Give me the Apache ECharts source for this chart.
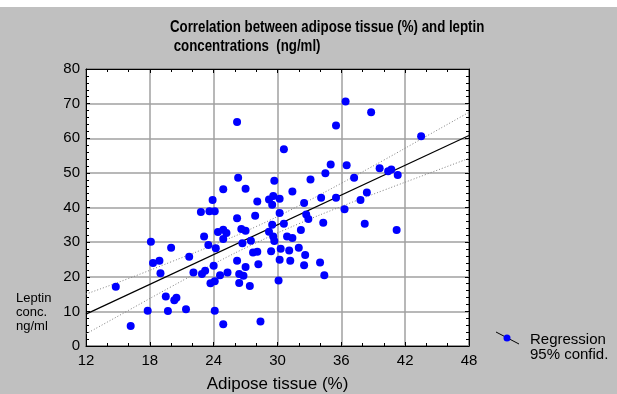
<!DOCTYPE html>
<html>
<head>
<meta charset="utf-8">
<script src="https://cdn.jsdelivr.net/npm/echarts@6/dist/echarts.min.js"></script>
<style>
  html, body { margin: 0; padding: 0; background: #fff; }
  #chart { width: 617px; height: 394px; }
</style>
</head>
<body>
<div id="chart"></div>
<script>
// adipose tissue (%) for each subject
const fatPct = [
  14.8, 16.2, 17.8, 18.1, 18.3, 18.9, 19.0, 19.5, 19.7, 20.0,
  20.3, 20.5, 21.4, 21.7, 22.1, 22.9, 23.2, 22.8, 23.6, 24.1,
  23.9, 23.1, 23.5, 24.2, 23.7, 24.1, 24.6, 25.3, 24.0, 24.1,
  24.9, 24.4, 24.9, 25.2, 24.9, 24.9, 26.2, 26.3, 27.0, 26.2,
  27.9, 28.1, 26.6, 27.0, 26.7, 27.5, 26.2, 27.0, 26.4, 26.8,
  26.4, 27.4, 27.7, 28.1, 28.2, 28.4, 29.2, 29.6, 29.7, 29.4,
  29.5, 29.2, 29.6, 30.2, 29.5, 29.7, 30.2, 30.6, 30.9, 31.4,
  30.3, 31.1, 32.0, 32.6, 30.2, 31.2, 32.5, 34.0, 34.4, 30.1,
  32.2, 32.5, 32.7, 32.9, 34.3, 30.6, 31.4, 33.1, 34.5, 35.0,
  36.5, 34.1, 35.5, 36.3, 37.8, 38.4, 38.2, 37.2, 35.5, 36.4,
  38.8, 39.6, 40.4, 40.7, 41.3, 41.2, 43.5
];
// leptin concentration (ng/ml), same order
const leptin = [
  17.1, 5.8, 10.2, 30.1, 24.0, 24.6, 21.0, 14.3, 10.1, 28.4,
  13.2, 13.9, 10.6, 25.8, 21.2, 20.8, 21.7, 38.7, 38.9, 38.9,
  42.2, 31.6, 29.2, 28.2, 18.1, 18.7, 20.4, 21.2, 23.2, 10.2,
  6.3, 32.9, 33.6, 32.6, 30.9, 45.3, 64.7, 48.6, 45.4, 36.9,
  37.6, 41.7, 33.8, 33.3, 29.7, 30.4, 24.6, 22.8, 20.8, 20.3,
  18.2, 17.3, 27.0, 27.2, 23.6, 7.1, 33.0, 31.6, 30.3, 27.4,
  35.0, 42.3, 43.3, 42.5, 40.8, 47.7, 38.4, 35.3, 31.6, 31.2,
  28.1, 27.6, 28.4, 26.3, 24.9, 24.6, 23.3, 24.1, 20.4, 18.9,
  33.5, 41.3, 38.0, 36.7, 35.6, 56.8, 44.6, 48.1, 49.9, 52.4,
  52.2, 42.8, 42.8, 39.5, 42.2, 44.3, 35.3, 48.6, 63.7, 70.6,
  67.5, 51.3, 50.5, 51.0, 49.4, 33.5, 60.6
];

// regression line end points
const regX = [12, 48];
const regY = [9.2, 60.8];

// 95% confidence band
const bandX = [12, 16, 20, 24, 28, 32, 36, 40, 44, 48];
const bandUpper = [15.0, 19.5, 24.3, 29.2, 34.5, 40.5, 47.0, 53.7, 60.6, 67.5];
const bandLower = [3.5, 10.3, 17.1, 23.7, 29.8, 35.3, 40.3, 45.0, 49.6, 54.2];

const xTicks = [12, 18, 24, 30, 36, 42, 48];
const yTicks = [0, 10, 20, 30, 40, 50, 60, 70, 80];

const zip = (a, b) => a.map((v, i) => [v, b[i]]);

const font = "'Liberation Sans', Arial, sans-serif";

const chart = echarts.init(document.getElementById('chart'), null, { renderer: 'canvas' });

const baseX = {
  type: 'value',
  min: xTicks[0],
  max: xTicks[xTicks.length - 1],
  interval: 6,
  axisLine: { show: true, onZero: false, lineStyle: { color: '#000', width: 1 } },
  axisTick: { show: true, inside: true, length: 4, lineStyle: { color: '#000' } },
  minorTick: { show: true, splitNumber: 3, length: 3, lineStyle: { color: '#000' } },
};
const baseY = {
  type: 'value',
  min: yTicks[0],
  max: yTicks[yTicks.length - 1],
  interval: 10,
  axisLine: { show: true, onZero: false, lineStyle: { color: '#000', width: 1 } },
  axisTick: { show: true, inside: true, length: 4, lineStyle: { color: '#000' } },
  minorTick: { show: true, splitNumber: 5, length: 3, lineStyle: { color: '#000' } },
};

chart.setOption({
  backgroundColor: '#c0c0c0',
  animation: false,
  grid: {
    left: 86, top: 69, right: 148, bottom: 48,
    outerBoundsMode: 'none',
    show: true, backgroundColor: '#fff', borderColor: '#000', borderWidth: 1,
  },
  xAxis: [
    {
      ...baseX,
      position: 'bottom',
      name: 'Adipose tissue (%)',
      nameLocation: 'middle',
      nameGap: 30,
      nameTextStyle: { fontFamily: font, fontSize: 17, color: '#000' },
      axisLabel: { fontFamily: font, fontSize: 15, color: '#000', margin: 7 },
      splitLine: { show: true, lineStyle: { color: '#a0a0a0', width: 1.5 } },
    },
    { ...baseX, position: 'top', axisLabel: { show: false }, splitLine: { show: false } },
  ],
  yAxis: [
    {
      ...baseY,
      position: 'left',
      axisLabel: { fontFamily: font, fontSize: 15, color: '#000', margin: 6 },
      splitLine: { show: true, lineStyle: { color: '#a0a0a0', width: 1.5 } },
    },
    { ...baseY, position: 'right', axisLabel: { show: false }, splitLine: { show: false } },
  ],
  graphic: [
    { type: 'rect', left: 0, top: 0, shape: { width: 617, height: 7 }, style: { fill: '#fff' }, silent: true },
    // title, squeezed horizontally to look like a narrow bold face
    {
      type: 'text', x: 170, y: 18, scaleX: 0.83,
      style: {
        text: 'Correlation between adipose tissue (%) and leptin\n concentrations  (ng/ml)',
        fontFamily: font, fontSize: 16, fontWeight: 'bold', lineHeight: 19, fill: '#000',
      },
    },
    {
      type: 'text', left: 16, top: 291,
      style: { text: 'Leptin\nconc.\nng/ml', fontFamily: font, fontSize: 13, lineHeight: 14, fill: '#000', align: 'center', width: 38 },
    },
    { type: 'line', shape: { x1: 496, y1: 332, x2: 519, y2: 344 }, style: { stroke: '#000', lineWidth: 1 } },
    { type: 'circle', shape: { cx: 507, cy: 338, r: 3.5 }, style: { fill: '#0000ff' } },
    {
      type: 'text', left: 530, top: 332,
      style: { text: 'Regression\n95% confid.', fontFamily: font, fontSize: 15, lineHeight: 15, fill: '#000' },
    },
  ],
  series: [
    {
      name: 'upper',
      type: 'line',
      data: zip(bandX, bandUpper),
      smooth: true,
      symbol: 'none',
      lineStyle: { color: '#808080', width: 1, type: [1, 2] },
      z: 2,
    },
    {
      name: 'lower',
      type: 'line',
      data: zip(bandX, bandLower),
      smooth: true,
      symbol: 'none',
      lineStyle: { color: '#808080', width: 1, type: [1, 2] },
      z: 2,
    },
    {
      name: 'Regression',
      type: 'line',
      data: zip(regX, regY),
      symbol: 'none',
      lineStyle: { color: '#000', width: 1.2 },
      z: 3,
    },
    {
      name: 'data',
      type: 'scatter',
      data: zip(fatPct, leptin),
      symbolSize: 8,
      itemStyle: { color: '#0000ff', opacity: 1 },
      z: 4,
    },
  ],
});
</script>
</body>
</html>
